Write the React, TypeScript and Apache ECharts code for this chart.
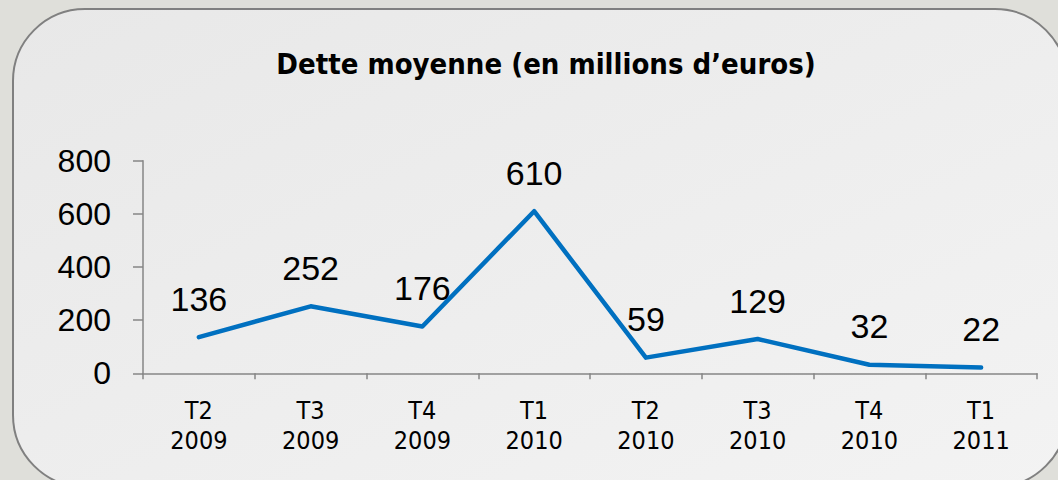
import React, { useEffect, useRef } from "react";
import * as echarts from "echarts";

const categories = ["T2\n2009", "T3\n2009", "T4\n2009", "T1\n2010", "T2\n2010", "T3\n2010", "T4\n2010", "T1\n2011"];
const values = [136, 252, 176, 610, 59, 129, 32, 22];
const yTicks = [0, 200, 400, 600, 800];
const title = "Dette moyenne (en millions d’euros)";

export default function App() {
  const ref = useRef<HTMLDivElement>(null);
  useEffect(() => {
    const chart = echarts.init(ref.current!, undefined, { renderer: "svg" });
    chart.setOption({
      animation: false,
      backgroundColor: "#dfdfda",
      graphic: [
        {
          type: "rect",
          shape: { x: 13, y: 9, width: 1054, height: 478, r: 72 },
          style: {
            fill: new echarts.graphic.LinearGradient(0, 0, 1, 1, [
              { offset: 0, color: "#e8e8e8" },
              { offset: 1, color: "#f3f3f3" },
            ]),
            stroke: "#808080",
            lineWidth: 2,
          },
          z: -10,
          silent: true,
        },
      ],
      title: {
        text: title,
        left: 541,
        textAlign: "center",
        top: 44,
        textStyle: { fontFamily: "DejaVu Sans Condensed", fontWeight: "bold", fontSize: 29, color: "#000" },
      },
      grid: { left: 143, right: 21, top: 160.7, bottom: 106.7, containLabel: false },
      xAxis: {
        type: "category",
        data: categories,
        boundaryGap: true,
        axisLine: { lineStyle: { color: "#868686", width: 1.5 } },
        axisTick: { show: true, length: 6, inside: false, alignWithLabel: false, lineStyle: { color: "#868686", width: 1.5 } },
        axisLabel: { margin: 22, fontFamily: "DejaVu Sans Condensed", fontSize: 25, lineHeight: 30, color: "#000" },
      },
      yAxis: {
        type: "value",
        min: yTicks[0],
        max: yTicks[yTicks.length - 1],
        interval: 200,
        splitLine: { show: false },
        axisLine: { show: true, lineStyle: { color: "#868686", width: 1.5 } },
        axisTick: { show: true, length: 10, lineStyle: { color: "#868686", width: 1.5 } },
        axisLabel: { margin: 32, fontFamily: "Liberation Sans, Arial", fontSize: 32, color: "#000" },
      },
      series: [
        {
          type: "line",
          data: values,
          symbol: "circle",
          symbolSize: 1,
          showSymbol: true,
          itemStyle: { color: "rgba(0,0,0,0)" },
          lineStyle: { color: "#0070c0", width: 4.5, cap: "round", join: "round" },
          label: {
            show: true,
            position: "top",
            distance: 21,
            fontFamily: "Liberation Sans, Arial",
            fontSize: 34,
            color: "#000",
          },
        },
      ],
    });
    return () => chart.dispose();
  }, []);
  return <div ref={ref} style={{ position: "fixed", left: 0, top: 0, width: 1058, height: 480 }} />;
}
